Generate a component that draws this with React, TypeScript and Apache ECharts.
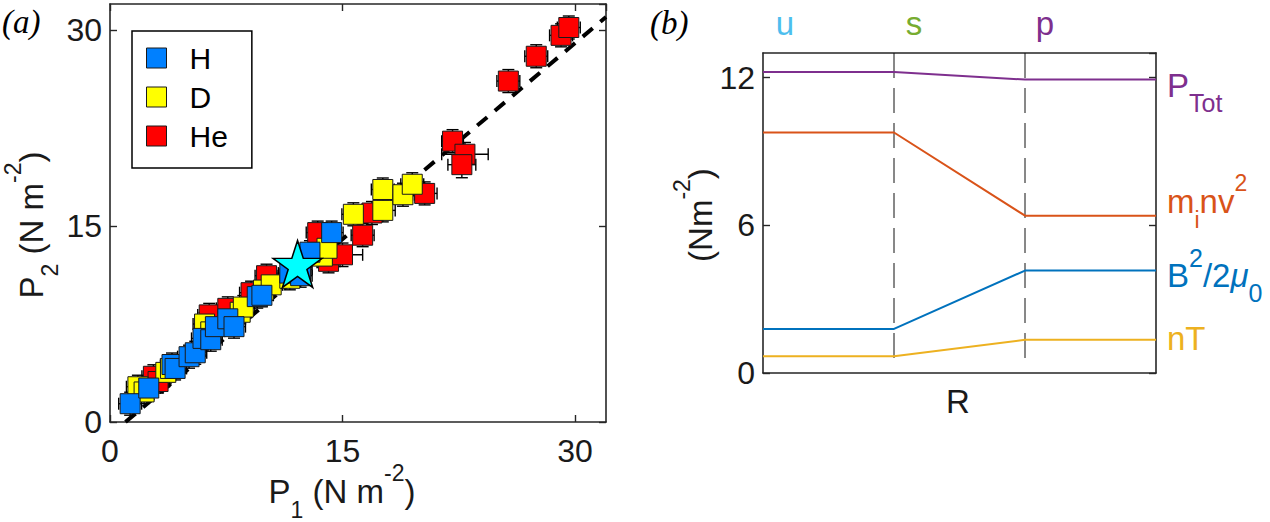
import React, { useEffect, useRef } from 'react';
import * as echarts from 'echarts';

const FONT = '"Liberation Sans", Arial, Helvetica, sans-serif';
const SERIF = '"Liberation Serif", "Times New Roman", serif';
const AXIS_COLOR = '#262626';

// ---------- panel (a) data: [P1, P2, xErr, yErr] ----------
const hePoints = [
  [2.8, 3.5, 0.74, 0.88],
  [3.1, 3.1, 0.74, 0.88],
  [6.4, 8.2, 0.74, 0.88],
  [7.6, 8.7, 0.74, 0.88],
  [9.1, 9.9, 0.74, 0.88],
  [10.1, 11.2, 0.74, 0.88],
  [13.4, 14.5, 0.74, 0.88],
  [14.1, 12.3, 0.74, 0.88],
  [15.0, 12.8, 1.3, 0.9],
  [16.3, 14.3, 0.74, 0.88],
  [16.9, 16.0, 0.74, 0.88],
  [20.3, 17.5, 0.8, 0.88],
  [22.1, 21.5, 0.7, 0.88],
  [22.9, 20.5, 1.5, 0.9],
  [22.7, 19.7, 0.9, 1.0],
  [25.7, 26.1, 0.74, 0.88],
  [27.5, 28.0, 0.74, 0.88],
  [29.1, 29.6, 0.74, 0.88],
  [29.6, 30.2, 0.74, 0.88],
];
const dPoints = [
  [1.8, 2.7, 0.74, 0.88],
  [2.2, 2.3, 0.74, 0.88],
  [3.6, 3.8, 0.74, 0.88],
  [3.9, 4.1, 0.74, 0.88],
  [6.1, 7.5, 0.74, 0.88],
  [6.5, 6.9, 0.74, 0.88],
  [8.4, 8.4, 0.74, 0.88],
  [8.6, 8.8, 0.74, 0.88],
  [9.9, 10.1, 0.74, 0.88],
  [10.4, 10.5, 0.74, 0.88],
  [11.6, 11.0, 0.74, 0.88],
  [12.3, 11.7, 0.74, 0.88],
  [13.7, 12.7, 0.74, 0.88],
  [14.0, 13.3, 0.74, 0.88],
  [15.7, 15.9, 0.74, 0.88],
  [17.6, 16.2, 0.8, 0.88],
  [17.6, 17.8, 0.74, 0.88],
  [18.9, 17.4, 0.74, 0.88],
  [19.5, 18.2, 0.74, 0.88],
];
const hPoints = [
  [1.3, 1.4, 0.74, 0.88],
  [2.5, 2.6, 0.74, 0.88],
  [4.0, 4.4, 0.74, 0.88],
  [4.2, 4.1, 0.74, 0.88],
  [5.1, 5.0, 0.74, 0.88],
  [5.5, 5.3, 0.74, 0.88],
  [6.0, 6.4, 0.74, 0.88],
  [6.5, 6.3, 0.74, 0.88],
  [6.8, 7.3, 0.74, 0.88],
  [7.6, 7.9, 0.74, 0.88],
  [8.0, 7.3, 0.74, 0.88],
  [9.5, 9.6, 0.74, 0.88],
  [9.8, 9.7, 0.74, 0.88],
  [11.6, 11.4, 0.74, 0.88],
  [12.3, 11.2, 0.74, 0.88],
  [12.9, 13.0, 0.74, 0.88],
  [14.3, 14.5, 0.74, 0.88],
];
const starPoint = [[12.1, 12.1]];
const fitLine = [[1, 0], [32, 31]];
const ticksA = [0, 15, 30];

// ---------- panel (b) data ----------
const regionX = [0, 1, 2, 3];
const pTot = [12.23, 12.23, 11.92, 11.92];
const ramPressure = [9.77, 9.77, 6.39, 6.39];
const magPressure = [1.79, 1.79, 4.16, 4.16];
const thermal = [0.68, 0.68, 1.35, 1.35];
const boundaries = [1, 2];
const ticksB = [0, 6, 12];

const C_PURPLE = '#7E2F8E';
const C_ORANGE = '#D95319';
const C_BLUE = '#0072BD';
const C_YELLOW = '#EDB120';

const rich = (color: string, base = 33, small = 23) => ({
  b: { fontSize: base, fontFamily: FONT, lineHeight: 60, verticalAlign: 'middle', fill: color, color },
  s: { fontSize: small, fontFamily: FONT, lineHeight: 22, verticalAlign: 'bottom', fill: color, color },
  p: { fontSize: small, fontFamily: FONT, lineHeight: 34, verticalAlign: 'top', fill: color, color },
  mu: { fontSize: base, fontFamily: FONT, fontStyle: 'italic', lineHeight: 60, verticalAlign: 'middle', fill: color, color },
});

const textEl = (x: number, y: number, text: string, color: string, opts: any = {}) => ({
  type: 'text',
  x,
  y,
  rotation: opts.rotation || 0,
  silent: true,
  style: {
    text,
    rich: opts.rich,
    font: opts.font || `33px ${FONT}`,
    fill: color,
    align: opts.align || 'left',
    textAlign: opts.align || 'left',
    verticalAlign: 'middle',
    textVerticalAlign: 'middle',
  },
});

const pts = (arr: number[][]) => arr.map((p) => [p[0], p[1]]);
const toXY = (ys: number[]) => regionX.map((x, i) => [x, ys[i]]);

export default function App() {
  const ref = useRef<HTMLDivElement>(null);
  useEffect(() => {
    if (!ref.current) return;
    const chart = echarts.init(ref.current, undefined, { renderer: 'svg' });

    const labelFmt = (ticks: number[]) => (v: number) => (ticks.includes(v) ? String(v) : '');
    const axisBase = {
      axisLine: { show: true, onZero: false, lineStyle: { color: AXIS_COLOR, width: 1.6 } },
      splitLine: { show: false },
    };
    const tickOn = { show: true, inside: true, length: 7, lineStyle: { color: AXIS_COLOR, width: 1.4 } };
    const tickLabel = (ticks: number[], margin: number) => ({
      show: true,
      formatter: labelFmt(ticks),
      showMaxLabel: false,
      fontSize: 32,
      fontFamily: FONT,
      color: '#1a1a1a',
      margin,
    });

    const errorRender = (params: any, api: any) => {
      const x = api.value(0), y = api.value(1), xe = api.value(2), ye = api.value(3);
      const c = api.coord([x, y]);
      const l = api.coord([x - xe, y]);
      const r = api.coord([x + xe, y]);
      const t = api.coord([x, y + ye]);
      const b = api.coord([x, y - ye]);
      const cap = 6;
      const style = { stroke: '#000', lineWidth: 1.4 };
      const line = (x1: number, y1: number, x2: number, y2: number) => ({ type: 'line', shape: { x1, y1, x2, y2 }, style });
      return {
        type: 'group',
        children: [
          line(l[0], c[1], r[0], c[1]),
          line(c[0], t[1], c[0], b[1]),
          line(l[0], c[1] - cap, l[0], c[1] + cap),
          line(r[0], c[1] - cap, r[0], c[1] + cap),
          line(c[0] - cap, t[1], c[0] + cap, t[1]),
          line(c[0] - cap, b[1], c[0] + cap, b[1]),
        ],
      };
    };

    const squareSeries = (name: string, color: string, data: number[][]) => ({
      type: 'scatter',
      name,
      xAxisIndex: 0,
      yAxisIndex: 0,
      symbol: 'rect',
      symbolSize: 20,
      z: 3,
      itemStyle: { color, borderColor: '#1a1a1a', borderWidth: 1, opacity: 1 },
      data: pts(data),
    });

    const bLine = (name: string, color: string, ys: number[]) => ({
      type: 'line',
      name,
      xAxisIndex: 2,
      yAxisIndex: 2,
      showSymbol: false,
      symbol: 'none',
      lineStyle: { color, width: 2 },
      data: toXY(ys),
      z: 3,
    });

    const option: any = {
      animation: false,
      backgroundColor: '#ffffff',
      grid: [
        { left: 110, top: 4, width: 496, height: 418, show: false },
        { left: 763, top: 53, width: 393, height: 320, show: false },
      ],
      xAxis: [
        { ...axisBase, type: 'value', gridIndex: 0, position: 'bottom', min: 0, max: 32, interval: 15, axisTick: tickOn, axisLabel: tickLabel(ticksA, 13) },
        { ...axisBase, type: 'value', gridIndex: 0, position: 'top', min: 0, max: 32, interval: 15, axisTick: tickOn, axisLabel: { show: false } },
        { ...axisBase, type: 'value', gridIndex: 1, position: 'bottom', min: 0, max: 3, axisTick: { show: false }, axisLabel: { show: false } },
        { ...axisBase, type: 'value', gridIndex: 1, position: 'top', min: 0, max: 3, axisTick: { show: false }, axisLabel: { show: false } },
      ],
      yAxis: [
        { ...axisBase, type: 'value', gridIndex: 0, position: 'left', min: 0, max: 32, interval: 15, axisTick: tickOn, axisLabel: tickLabel(ticksA, 8) },
        { ...axisBase, type: 'value', gridIndex: 0, position: 'right', min: 0, max: 32, interval: 15, axisTick: tickOn, axisLabel: { show: false } },
        { ...axisBase, type: 'value', gridIndex: 1, position: 'left', min: 0, max: 13, interval: 6, axisTick: tickOn, axisLabel: tickLabel(ticksB, 8) },
        { ...axisBase, type: 'value', gridIndex: 1, position: 'right', min: 0, max: 13, interval: 6, axisTick: tickOn, axisLabel: { show: false } },
      ],
      legend: {
        show: true,
        data: ['H', 'D', 'He'],
        orient: 'vertical',
        left: 132,
        top: 31,
        padding: [12, 24, 17, 14],
        itemWidth: 20,
        itemHeight: 20,
        itemGap: 9,
        icon: 'rect',
        selectedMode: false,
        borderColor: '#000',
        borderWidth: 1.5,
        backgroundColor: '#fff',
        itemStyle: { borderColor: '#1a1a1a', borderWidth: 1 },
        textStyle: { fontSize: 30, fontFamily: FONT, color: '#000', padding: [0, 0, 0, 18] },
      },
      series: [
        {
          type: 'line',
          name: 'fit',
          xAxisIndex: 0,
          yAxisIndex: 0,
          data: fitLine,
          showSymbol: false,
          symbol: 'none',
          lineStyle: { color: '#000', width: 4, type: [13, 10] },
          z: 1,
        },
        {
          type: 'custom',
          name: 'errors',
          xAxisIndex: 0,
          yAxisIndex: 0,
          renderItem: errorRender,
          encode: { x: 0, y: 1 },
          data: [...hePoints, ...dPoints, ...hPoints],
          z: 2,
          silent: true,
        },
        squareSeries('He', '#FF0000', hePoints),
        squareSeries('D', '#FFFF00', dPoints),
        squareSeries('H', '#0080FF', hPoints),
        {
          type: 'scatter',
          name: 'star',
          xAxisIndex: 0,
          yAxisIndex: 0,
          symbol: 'path://M50 0 L61.2 34.5 L97.6 34.5 L68.2 55.9 L79.4 90.5 L50 69.1 L20.6 90.5 L31.8 55.9 L2.4 34.5 L38.8 34.5 Z',
          symbolSize: [49, 47],
          itemStyle: { color: '#00FFFF', borderColor: '#000', borderWidth: 1.5, opacity: 1 },
          data: starPoint,
          z: 5,
        },
        ...boundaries.map((bx, i) => ({
          type: 'line',
          name: 'boundary' + i,
          xAxisIndex: 2,
          yAxisIndex: 2,
          showSymbol: false,
          symbol: 'none',
          lineStyle: { color: '#111', width: 1, type: [25, 10] },
          data: [[bx, 13], [bx, 0.35]],
          z: 2,
        })),
        bLine('PTot', C_PURPLE, pTot),
        bLine('minv2', C_ORANGE, ramPressure),
        bLine('B2', C_BLUE, magPressure),
        bLine('nT', C_YELLOW, thermal),
      ],
      graphic: [
        textEl(2, 22, '(a)', '#000', { font: `italic 33px ${SERIF}` }),
        textEl(650, 23, '(b)', '#000', { font: `italic 33px ${SERIF}` }),
        textEl(342, 491, '{b|P}{s|1}{b| (N m}{p|-2}{b|)}', '#1a1a1a', { rich: rich('#1a1a1a'), align: 'center' }),
        textEl(31, 225, '{b|P}{s|2}{b| (N m}{p|-2}{b|)}', '#1a1a1a', { rich: rich('#1a1a1a'), align: 'center', rotation: Math.PI / 2 }),
        textEl(700, 215, '{b|(Nm}{p|-2}{b|)}', '#1a1a1a', { rich: rich('#1a1a1a'), align: 'center', rotation: Math.PI / 2 }),
        textEl(958, 401, 'R', '#1a1a1a', { align: 'center' }),
        textEl(785, 23.6, 'u', '#4DBEEE', { align: 'center' }),
        textEl(914, 23.6, 's', '#77AC30', { align: 'center' }),
        textEl(1045, 23.6, 'p', C_PURPLE, { align: 'center' }),
        textEl(1167, 85.6, '{b|P}{s|Tot}', C_PURPLE, { rich: rich(C_PURPLE, 33, 25) }),
        textEl(1167, 201.6, '{b|m}{s|i}{b|nv}{p|2}', C_ORANGE, { rich: rich(C_ORANGE, 33, 23) }),
        textEl(1167, 275.6, '{b|B}{p|2}{b|/2}{mu|μ}{s|0}', C_BLUE, { rich: rich(C_BLUE, 33, 25) }),
        textEl(1167, 338.6, 'nT', C_YELLOW),
      ],
    };

    chart.setOption(option);
    return () => chart.dispose();
  }, []);

  return (
    <div
      ref={ref}
      style={{ position: 'absolute', left: 0, top: 0, width: 1270, height: 522, background: '#fff' }}
    />
  );
}
